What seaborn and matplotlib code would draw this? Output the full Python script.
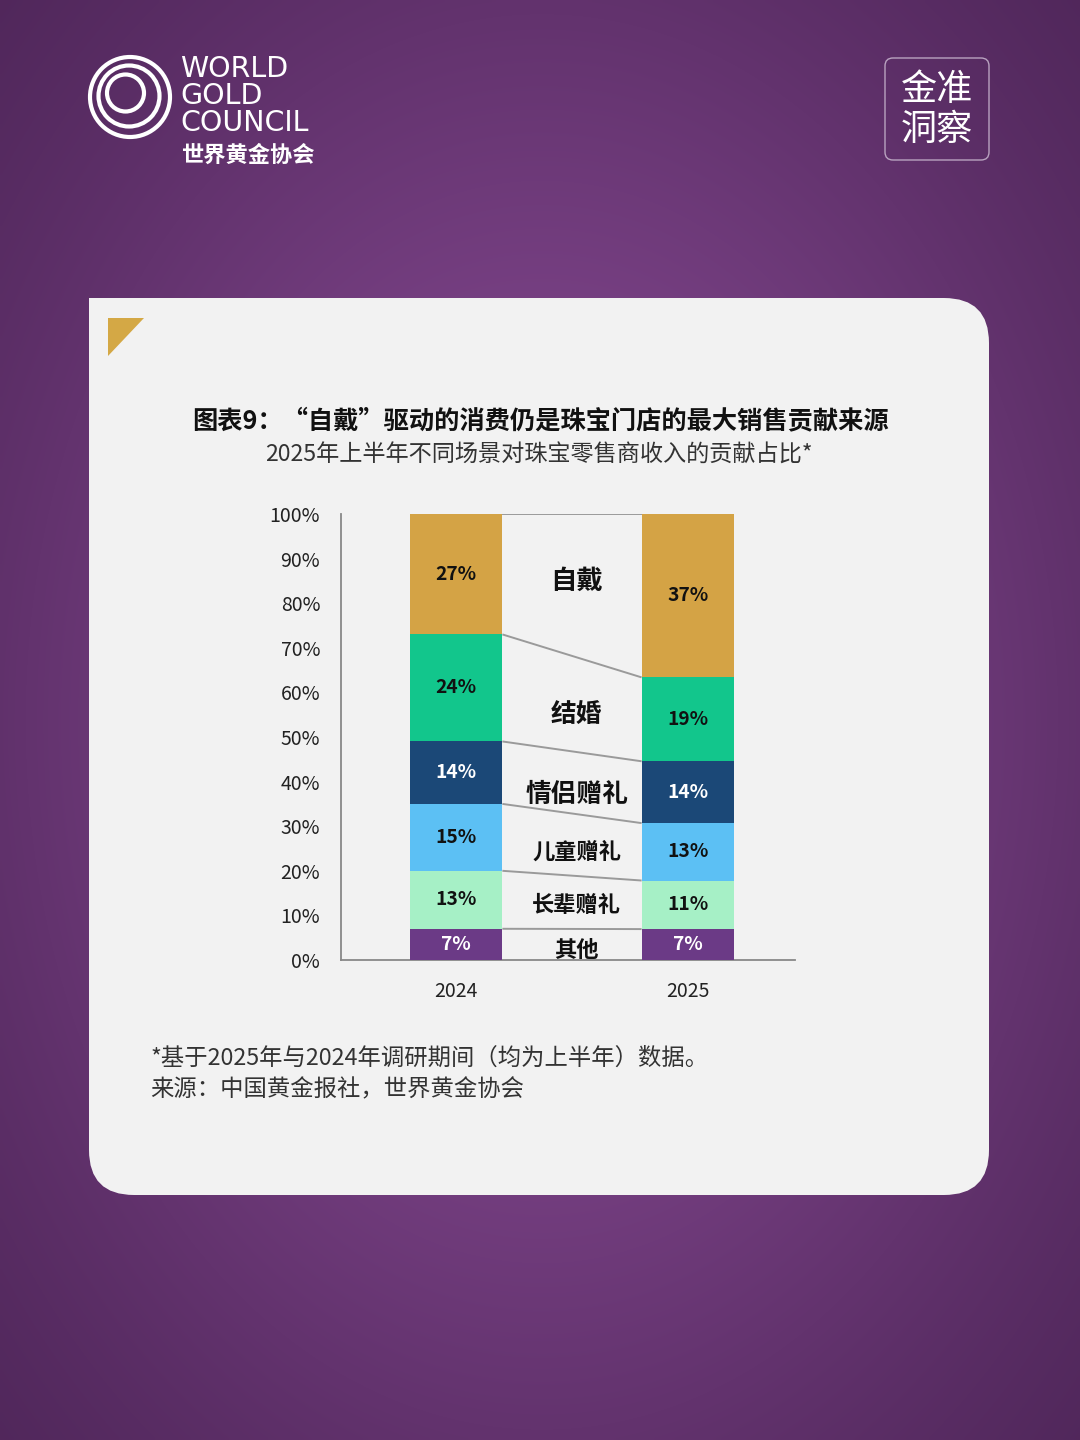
import numpy as np
import pandas as pd
import matplotlib
matplotlib.use("Agg")
import matplotlib.pyplot as plt
from matplotlib.patches import FancyBboxPatch, Rectangle, Polygon, Circle
import seaborn as sns

# ---------------- data ----------------
years = ["2024", "2025"]
scenes = ["其他", "长辈赠礼", "儿童赠礼", "情侣赠礼", "结婚", "自戴"]  # bottom -> top
values_2024 = [7, 13, 15, 14, 24, 27]
values_2025 = [7, 11, 13, 14, 19, 37]
colors = ["#6B3A86", "#A6F0C6", "#5CC0F4", "#1B4877", "#12C68C", "#D4A345"]
label_colors = ["white", "#111111", "#111111", "white", "#111111", "#111111"]
scene_sizes = [16, 16, 16, 18.5, 18.5, 19]
scene_offsets = [-0.45, 0.0, -0.9, -1.8, -1.6, 1.6]
ytick_vals = [0, 10, 20, 30, 40, 50, 60, 70, 80, 90, 100]

title = "图表9：“自戴”驱动的消费仍是珠宝门店的最大销售贡献来源"
subtitle = "2025年上半年不同场景对珠宝零售商收入的贡献占比*"
note1 = "*基于2025年与2024年调研期间（均为上半年）数据。"
note2 = "来源：中国黄金报社，世界黄金协会"

# ---------------- table ----------------
rows = []
for yr, vals in zip(years, [values_2024, values_2025]):
    tot = float(sum(vals))
    cum = 0.0
    for s, v in zip(scenes, vals):
        share = v / tot * 100
        rows.append(dict(year=yr, scene=s, value=v, bottom=cum, cum=cum + share))
        cum += share
df = pd.DataFrame(rows)

# ---------------- style ----------------
sns.set_style("white")
plt.rcParams["font.family"] = ["Noto Sans CJK SC", "DejaVu Sans"]

W, H = 1080, 1440
fig = plt.figure(figsize=(W / 100, H / 100), dpi=100)

# background
bg = fig.add_axes([0, 0, 1, 1])
gy, gx = np.mgrid[0:H:4, 0:W:4]
f = np.exp(-((gx - 540) / 620.0) ** 2 - ((gy - 720) / 850.0) ** 2)
light = np.array([132, 72, 144]) / 255.0
dark = np.array([66, 30, 76]) / 255.0
img = dark[None, None, :] + (light - dark)[None, None, :] * f[..., None]
bg.imshow(img, extent=(0, W, H, 0), interpolation="bilinear", zorder=0)
bg.set_xlim(0, W)
bg.set_ylim(H, 0)
bg.axis("off")

# card
card_col = "#F2F2F2"
bg.add_patch(FancyBboxPatch((89, 298), 900, 897,
                            boxstyle="round,pad=0,rounding_size=45",
                            fc=card_col, ec="none", zorder=1))
bg.add_patch(Rectangle((89, 298), 80, 80, fc=card_col, ec="none", zorder=1))
bg.add_patch(Polygon([(108, 318), (144, 318), (108, 356)], closed=True,
                     fc="#D4A845", ec="none", zorder=2))

# logo
for (cx, cy, r) in [(130, 97, 40), (129, 96, 30.5), (125.5, 93, 18.5)]:
    bg.add_patch(Circle((cx, cy), r, fill=False, ec="white", lw=3.0, zorder=3))
for i, w in enumerate(["WORLD", "GOLD", "COUNCIL"]):
    bg.text(180, 69 + 27 * i, w, color="white", fontsize=20.5, weight="medium",
            family=["DejaVu Sans"], va="center", ha="left", zorder=3)
bg.text(181, 155, "世界黄金协会", color="white", fontsize=16, weight="bold",
        va="center", ha="left", zorder=3)

# badge
bg.add_patch(FancyBboxPatch((885, 58), 104, 102,
                            boxstyle="round,pad=0,rounding_size=8",
                            fc="none", ec="#B9A3C0", lw=1.0, zorder=3))
bg.text(937, 90, "金准", color="white", fontsize=26, ha="center", va="center", zorder=3)
bg.text(937, 130, "洞察", color="white", fontsize=26, ha="center", va="center", zorder=3)

# titles and notes
bg.text(540, 421, title, color="#111111", fontsize=18.2, weight="bold",
        ha="center", va="center", zorder=3)
bg.text(539, 455, subtitle, color="#333333", fontsize=16.7,
        ha="center", va="center", zorder=3)
bg.text(150, 1058, note1, color="#333333", fontsize=16.8, ha="left", va="center", zorder=3)
bg.text(150, 1090, note2, color="#333333", fontsize=16.8, ha="left", va="center", zorder=3)

# ---------------- chart ----------------
x_left, x_right = 341, 795
y_bot, y_top = 960, 514
ax = fig.add_axes([x_left / W, 1 - y_bot / H, (x_right - x_left) / W, (y_bot - y_top) / H])
ax.patch.set_alpha(0)

for s, c in reversed(list(zip(scenes, colors))):
    sub = df[df.scene == s]
    sns.barplot(data=sub, x="year", y="cum", order=years, color=c, saturation=1,
                width=0.4, linewidth=0, errorbar=None, ax=ax, zorder=3)

# connector lines between bars
for s in scenes:
    a = df[(df.scene == s) & (df.year == years[0])].iloc[0]
    b = df[(df.scene == s) & (df.year == years[1])].iloc[0]
    ax.plot([0.2, 0.8], [a.cum, b.cum], color="#9A9A9A", lw=1.4, zorder=2,
            solid_capstyle="butt")

# value labels and scene labels
for i, s in enumerate(scenes):
    for xi, yr in enumerate(years):
        r = df[(df.scene == s) & (df.year == yr)].iloc[0]
        ax.text(xi, (r.bottom + r.cum) / 2, f"{r.value}%", ha="center", va="center",
                fontsize=13.8, weight="bold", color=label_colors[i], zorder=5)
    a = df[(df.scene == s) & (df.year == years[0])].iloc[0]
    b = df[(df.scene == s) & (df.year == years[1])].iloc[0]
    mid = (a.bottom + b.bottom + a.cum + b.cum) / 4 - 0.8 + scene_offsets[i]
    ax.text(0.52, mid, s, ha="center", va="center", fontsize=scene_sizes[i],
            weight="bold", color="#111111", zorder=5)

ax.set_xlim((x_left - 456) / 232.0, (x_right - 456) / 232.0)
ax.set_ylim(0, 100)
ax.set_yticks(ytick_vals)
ax.set_yticklabels([f"{v}%" for v in ytick_vals])
ax.set_xticks([0, 1])
ax.set_xticklabels(years)
ax.set_xticks([(x_left - 456) / 232.0 + 0.002, (557 - 456) / 232.0], minor=True)
ax.tick_params(axis="y", length=0, pad=15, labelsize=14, labelcolor="#222222")
ax.tick_params(axis="x", which="major", length=0, pad=15, labelsize=14, labelcolor="#222222")
ax.tick_params(axis="x", which="minor", length=6, width=1.2, color="#888888", direction="out")
ax.set_xlabel("")
ax.set_ylabel("")
for sp in ["top", "right"]:
    ax.spines[sp].set_visible(False)
for sp in ["left", "bottom"]:
    ax.spines[sp].set_color("#888888")
    ax.spines[sp].set_linewidth(1.3)
ax.grid(False)

fig.savefig("out.png", dpi=100)
